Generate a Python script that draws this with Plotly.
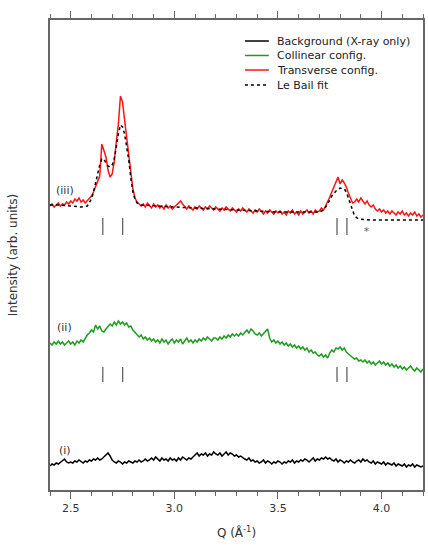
import plotly.graph_objects as go

# Q grid (Å^-1), sampled every 0.01 from 2.40 to 4.20
q_grid = [round(2.40 + 0.01 * i, 2) for i in range(181)]

# (i) Background (X-ray only)
bg_i = [
    24, 26, 25, 27, 26, 28, 29, 31, 28, 27,
    28, 27, 29, 28, 30, 28, 27, 29, 28, 30,
    29, 31, 30, 32, 30, 31, 33, 35, 37, 34,
    30, 28, 27, 29, 28, 26, 28, 27, 29, 28,
    27, 29, 28, 30, 28, 29, 31, 29, 30, 32,
    30, 33, 31, 29, 32, 30, 31, 29, 32, 30,
    31, 29, 32, 30, 33, 31, 30, 32, 31, 33,
    35, 37, 34, 36, 35, 37, 34, 36, 35, 38,
    36, 35, 37, 34, 36, 38, 35, 37, 36, 34,
    35, 33, 34, 32, 31, 30, 32, 29, 30, 28,
    29, 27, 28, 30, 27, 29, 28, 26, 28, 27,
    29, 28, 26, 28, 27, 29, 28, 30, 27, 29,
    28, 30, 29, 31, 30, 28, 30, 32, 29, 31,
    30, 32, 31, 33, 31, 32, 30, 29, 31, 28,
    30, 29, 27, 29, 28, 30, 28, 27, 29, 30,
    28, 31, 29, 30, 28, 27, 29, 26, 28, 27,
    26, 28, 25, 27, 26, 25, 27, 24, 26, 25,
    24, 26, 23, 25, 24, 26, 23, 25, 24, 23,
    24,
]

# (ii) Collinear config.
col_ii = [
    147, 145, 148, 146, 149, 146, 148, 145, 147, 149,
    146, 148, 145, 149, 147, 150, 148, 152, 155, 157,
    160, 158, 165, 161, 164, 159, 158, 161, 163, 166,
    164, 168, 165, 169, 166, 168, 165, 167, 163, 164,
    160, 158, 155, 153, 155, 151, 153, 150, 152, 149,
    151, 148, 150, 147, 151, 148, 150, 146, 149, 151,
    147, 150, 148, 151, 146, 149, 152, 148, 150, 147,
    150, 148, 151, 149, 152, 150, 153, 151, 149, 152,
    152, 150, 153, 151, 154, 152, 155, 153, 156, 154,
    156, 154, 157, 155, 158, 160, 157, 161, 159, 156,
    155, 157, 154, 156, 159, 161, 152, 148, 150, 147,
    149, 146, 148, 145, 147, 144, 146, 143, 145, 142,
    144, 141, 143, 140, 142, 138, 140, 137, 138, 135,
    134, 136, 133, 135, 132, 137, 140, 138, 142, 141,
    143, 140, 142, 138, 136, 134, 133, 131, 132, 129,
    130, 128, 130, 127, 129, 126, 128, 125, 127, 129,
    126, 128, 125, 127, 124, 126, 123, 125, 122, 124,
    121, 123, 120, 122, 124, 121, 119, 122, 120, 118,
    121,
]

# (iii) Transverse config.
trans_iii = [
    284, 286, 283, 285, 287, 284, 286, 285, 288, 286,
    289, 287, 291, 289, 292, 288, 290, 287, 289, 292,
    294, 298, 303, 308, 314, 346, 340, 333, 320, 313,
    316, 328, 348, 366, 394, 388, 370, 353, 336, 318,
    301, 292, 288, 286, 284, 286, 283, 287, 284, 282,
    286, 283, 285, 282, 284, 281, 285, 282, 284, 281,
    283, 285, 287, 289, 286, 283, 281, 284, 282, 280,
    283, 281, 284, 282, 280, 283, 281, 284, 282, 280,
    283, 281, 279, 282, 280, 283, 281, 279, 282, 280,
    278, 281, 279, 282, 280, 278, 281, 279, 277, 280,
    278, 281, 278, 276, 279, 277, 280, 278, 276, 279,
    277, 279, 276, 278, 275, 279, 277, 280, 276, 278,
    275, 279, 276, 278, 280, 277, 279, 276, 280, 278,
    279, 282, 280, 284, 288, 293, 298, 303, 309, 313,
    306, 310, 307, 303, 297, 292, 287, 288, 291, 288,
    292, 289, 286, 289, 285, 283, 285, 281, 279, 281,
    278, 280, 277, 279, 276, 279, 277, 275, 278, 276,
    279, 275, 277, 274, 277, 275, 278, 274, 276, 273,
    275,
]

# Le Bail fit (smooth curve)
lebail_q = [2.40, 2.45, 2.50, 2.55, 2.58, 2.59, 2.60, 2.61, 2.62, 2.63, 2.64,
            2.65, 2.66, 2.67, 2.68, 2.69, 2.70, 2.71, 2.72, 2.73, 2.74, 2.75,
            2.76, 2.77, 2.78, 2.79, 2.80, 2.81, 2.82, 2.84, 2.90, 3.00, 3.10,
            3.20, 3.30, 3.40, 3.50, 3.60, 3.70, 3.72, 3.74, 3.76, 3.78, 3.80,
            3.82, 3.83, 3.84, 3.85, 3.86, 3.87, 3.89, 3.95, 4.05, 4.20]
lebail_iii = [285, 285, 284, 283, 284, 287, 291, 298, 308, 318, 325,
              331, 331, 327, 324, 323, 325, 331, 345, 356, 365, 363,
              356, 343, 330, 312, 298, 291, 287, 285, 284, 283, 282,
              281, 280, 279, 278, 278, 278, 280, 286, 294, 299, 302,
              301, 298, 292, 284, 278, 274, 271, 270, 270, 270]

# Reflection positions
refl_q = [2.655, 2.751, 3.785, 3.833]
refl_rows = [(255, 272), (108, 123)]

labels = ["(iii)", "(ii)", "(i)"]
label_y = [300, 163, 40]

legend_names = ["Background (X-ray only)", "Collinear config.", "Transverse config.", "Le Bail fit"]
legend_colors = ["#000000", "#1f9c1f", "#ff1414", "#000000"]
legend_dash = ["solid", "solid", "solid", "3px,3px"]

font_family = "DejaVu Sans, Open Sans, sans-serif"

fig = go.Figure()
fig.add_trace(go.Scatter(x=q_grid, y=bg_i, mode="lines", name=legend_names[0],
                         line=dict(color=legend_colors[0], width=1.5)))
fig.add_trace(go.Scatter(x=q_grid, y=col_ii, mode="lines", name=legend_names[1],
                         line=dict(color=legend_colors[1], width=1.5)))
fig.add_trace(go.Scatter(x=q_grid, y=trans_iii, mode="lines", name=legend_names[2],
                         line=dict(color=legend_colors[2], width=1.5)))
fig.add_trace(go.Scatter(x=lebail_q, y=lebail_iii, mode="lines", name=legend_names[3],
                         line=dict(color=legend_colors[3], width=1.5, dash=legend_dash[3])))

rx, ry = [], []
for lo, hi in refl_rows:
    for q in refl_q:
        rx += [q, q, None]
        ry += [lo, hi, None]
fig.add_trace(go.Scatter(x=rx, y=ry, mode="lines", showlegend=False,
                         line=dict(color="#333333", width=1), hoverinfo="skip"))

for t, yv in zip(labels, label_y):
    fig.add_annotation(x=2.472, y=yv, text=t, showarrow=False,
                       font=dict(size=11, color="#333333", family=font_family))
fig.add_annotation(x=3.929, y=259, text="*", showarrow=False,
                   font=dict(size=10, color="#555555", family=font_family))

# Manual compact legend (paper coordinates)
leg_x0, leg_x1, leg_tx = 0.5227, 0.5867, 0.6027
leg_rows = [0.9553, 0.9245, 0.8936, 0.8617]
for name, col, dsh, yy in zip(legend_names, legend_colors, legend_dash, leg_rows):
    fig.add_shape(type="line", xref="paper", yref="paper", x0=leg_x0, x1=leg_x1, y0=yy, y1=yy,
                  line=dict(color=col, width=1.5, dash=dsh))
    fig.add_annotation(xref="paper", yref="paper", x=leg_tx, y=yy, text=name, showarrow=False,
                       xanchor="left", yanchor="middle",
                       font=dict(size=11, color="#222222", family=font_family))

fig.update_layout(
    width=428, height=548,
    margin=dict(l=50, r=3, t=20, b=58),
    paper_bgcolor="white", plot_bgcolor="white",
    font=dict(family=font_family, size=11, color="#333333"),
    showlegend=False,
    xaxis=dict(range=[2.4, 4.2], showgrid=False, zeroline=False,
               showline=True, linecolor="#666666", linewidth=1.5, mirror="ticks",
               ticks="outside", ticklen=7, tickwidth=1.2, tickcolor="#666666",
               tick0=2.5, dtick=0.5, tickformat=".1f",
               minor=dict(ticks="outside", ticklen=4, tickwidth=1, tickcolor="#666666", dtick=0.1, tick0=2.4),
               tickfont=dict(size=11, color="#333333"),
               title=dict(text="Q (Å<sup>-1</sup>)", font=dict(size=12, color="#333333"), standoff=15)),
    yaxis=dict(range=[0, 470], showgrid=False, zeroline=False, showticklabels=False,
               showline=True, linecolor="#666666", linewidth=1.5, mirror=True, ticks="",
               title=dict(text="Intensity (arb. units)", font=dict(size=12, color="#333333"), standoff=28)),
)

fig.write_html("out.html")
